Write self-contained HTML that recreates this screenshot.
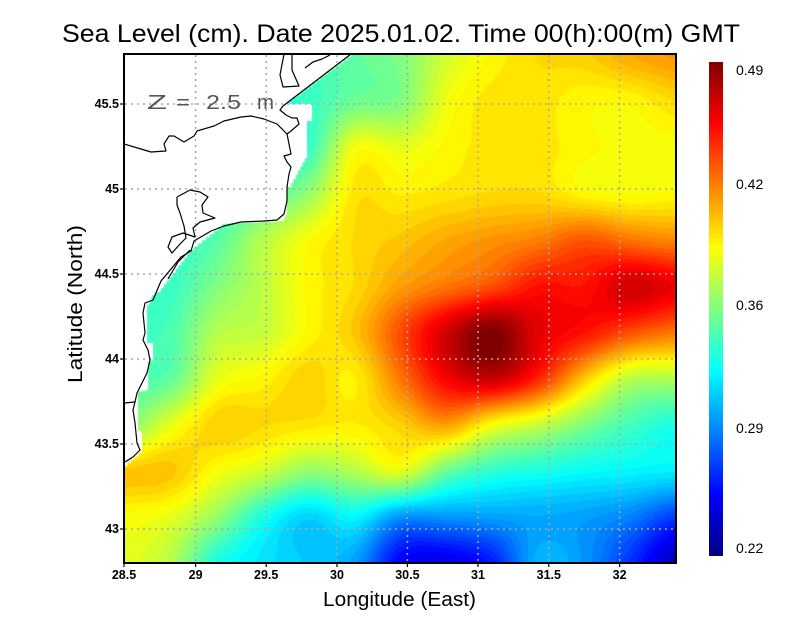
<!DOCTYPE html>
<html><head><meta charset="utf-8">
<style>
html,body{margin:0;padding:0;background:#fff;width:800px;height:618px;overflow:hidden}
#c{position:absolute;left:124px;top:54px}
svg{position:absolute;left:0;top:0}
text{font-family:"Liberation Sans",sans-serif}
</style></head>
<body>
<canvas id="c" width="552" height="509"></canvas>
<svg width="800" height="618" viewBox="0 0 800 618">
<defs>
<linearGradient id="jet" x1="0" y1="1" x2="0" y2="0">
<stop offset="0" stop-color="#000080"/>
<stop offset="0.125" stop-color="#0000ff"/>
<stop offset="0.375" stop-color="#00ffff"/>
<stop offset="0.625" stop-color="#ffff00"/>
<stop offset="0.875" stop-color="#ff0000"/>
<stop offset="1" stop-color="#800000"/>
</linearGradient>
</defs>
<!-- grid -->
<g stroke="#a8a8a8" stroke-width="1.5" stroke-dasharray="2,4" fill="none">
<line x1="195.6" y1="55" x2="195.6" y2="562"/>
<line x1="266.2" y1="55" x2="266.2" y2="562"/>
<line x1="337" y1="55" x2="337" y2="562"/>
<line x1="407.4" y1="55" x2="407.4" y2="562"/>
<line x1="478" y1="55" x2="478" y2="562"/>
<line x1="548.8" y1="55" x2="548.8" y2="562"/>
<line x1="619.6" y1="55" x2="619.6" y2="562"/>
<line x1="125" y1="104" x2="675" y2="104"/>
<line x1="125" y1="189" x2="675" y2="189"/>
<line x1="125" y1="274" x2="675" y2="274"/>
<line x1="125" y1="359" x2="675" y2="359"/>
<line x1="125" y1="444" x2="675" y2="444"/>
<line x1="125" y1="529" x2="675" y2="529"/>
</g>
<!-- coast -->
<g stroke="#000" stroke-width="1.2" fill="none" stroke-linejoin="round">
<polyline points="351,54 283,106 280,110 286,115 292,118 297,118 299,124 291,131 287,134"/>
<polyline points="124,144 141,149 151,152 166,151 164,144 169,136 174,136 184,142 194,136 197,131 214,126 224,121 241,117 251,116 264,119 277,124 287,134 291,154 284,156 287,162 291,167 289,174 287,187 287,201 284,214 277,220 264,221 241,222 224,226 211,231 194,241 191,251 181,257 161,281 153,300 145,303 143,313 145,333 143,340 148,350 150,360 147,373 142,383 137,393 135,402 133,410 135,423 137,443 140,450 133,457 125,462"/>
<polyline points="124,403 135,402"/>
<polyline points="284,54 280,75 283,87 299,86 292,70 292,54"/>
<polyline points="305,68 313,62 322,59 330,55"/>
<polyline points="177,197 190,190 200,192 208,197 202,205 203,213 215,218 200,222 193,228 195,237 183,233 172,237 168,247 172,253 180,244 186,238 184,226 180,213 177,205 177,197"/>
<polyline points="190,250 178,262 168,279"/>
</g>
<!-- frame -->
<rect x="124" y="54" width="552" height="509" fill="none" stroke="#000" stroke-width="2"/>
<!-- ticks -->
<g stroke="#000" stroke-width="1.2">
<line x1="124" y1="563" x2="124" y2="567"/><line x1="195.6" y1="563" x2="195.6" y2="567"/>
<line x1="266.2" y1="563" x2="266.2" y2="567"/><line x1="337" y1="563" x2="337" y2="567"/>
<line x1="407.4" y1="563" x2="407.4" y2="567"/><line x1="478" y1="563" x2="478" y2="567"/>
<line x1="548.8" y1="563" x2="548.8" y2="567"/><line x1="619.6" y1="563" x2="619.6" y2="567"/>
<line x1="120" y1="104" x2="124" y2="104"/><line x1="120" y1="189" x2="124" y2="189"/>
<line x1="120" y1="274" x2="124" y2="274"/><line x1="120" y1="359" x2="124" y2="359"/>
<line x1="120" y1="444" x2="124" y2="444"/><line x1="120" y1="529" x2="124" y2="529"/>
</g>
<!-- tick labels -->
<g font-size="12.5" font-weight="bold" fill="#000" text-anchor="middle">
<text x="124" y="579">28.5</text><text x="195.6" y="579">29</text>
<text x="266.2" y="579">29.5</text><text x="337" y="579">30</text>
<text x="407.4" y="579">30.5</text><text x="478" y="579">31</text>
<text x="548.8" y="579">31.5</text><text x="619.6" y="579">32</text>
</g>
<g font-size="12.5" font-weight="bold" fill="#000" text-anchor="end">
<text x="119" y="108">45.5</text><text x="119" y="193">45</text>
<text x="119" y="278">44.5</text><text x="119" y="363">44</text>
<text x="119" y="448">43.5</text><text x="119" y="533">43</text>
</g>
<!-- colorbar -->
<rect x="709" y="62" width="14" height="494" fill="url(#jet)"/>
<g font-size="14" fill="#000">
<text x="736" y="75">0.49</text>
<text x="736" y="189">0.42</text>
<text x="736" y="310">0.36</text>
<text x="736" y="433">0.29</text>
<text x="736" y="553">0.22</text>
</g>
<!-- titles -->
<text x="62" y="42" font-size="25" textLength="678" lengthAdjust="spacingAndGlyphs" fill="#000">Sea Level (cm). Date 2025.01.02. Time 00(h):00(m) GMT</text>
<text x="323" y="606" font-size="20" textLength="153" lengthAdjust="spacingAndGlyphs" fill="#000">Longitude (East)</text>
<text transform="translate(82,383) rotate(-90)" font-size="20" textLength="158" lengthAdjust="spacingAndGlyphs" fill="#000">Latitude (North)</text>
<g font-size="20" fill="#555">
<text x="147" y="109" textLength="20" lengthAdjust="spacingAndGlyphs">Z</text>
<text x="176" y="109" textLength="14" lengthAdjust="spacingAndGlyphs">=</text>
<text x="206" y="109" textLength="35" lengthAdjust="spacingAndGlyphs">2.5</text>
<text x="257" y="109" textLength="17" lengthAdjust="spacingAndGlyphs">m</text>
</g>
</svg>
<script>
(function(){
var G=[
[0.42,0.42,0.42,0.42,0.44,0.47,0.50,0.58,0.63,0.66,0.67,0.71,0.73],
[0.42,0.42,0.42,0.42,0.43,0.48,0.50,0.61,0.65,0.65,0.63,0.63,0.66],
[0.42,0.42,0.42,0.42,0.43,0.61,0.60,0.63,0.65,0.65,0.63,0.62,0.62],
[0.42,0.42,0.42,0.45,0.52,0.65,0.64,0.65,0.66,0.66,0.63,0.62,0.63],
[0.42,0.42,0.46,0.55,0.62,0.66,0.68,0.71,0.73,0.75,0.79,0.76,0.74],
[0.42,0.43,0.50,0.56,0.63,0.66,0.72,0.76,0.80,0.86,0.86,0.92,0.89],
[0.44,0.45,0.55,0.57,0.63,0.68,0.80,0.92,1.00,0.90,0.86,0.80,0.76],
[0.46,0.47,0.60,0.63,0.67,0.64,0.76,0.88,0.93,0.84,0.68,0.56,0.55],
[0.50,0.60,0.67,0.66,0.65,0.64,0.67,0.72,0.62,0.57,0.50,0.44,0.40],
[0.68,0.68,0.62,0.58,0.52,0.55,0.60,0.48,0.42,0.40,0.38,0.37,0.36],
[0.62,0.60,0.52,0.40,0.33,0.37,0.27,0.27,0.28,0.29,0.28,0.25,0.18],
[0.60,0.55,0.40,0.35,0.32,0.28,0.12,0.10,0.15,0.30,0.27,0.17,0.05]];
var NX=13,NY=12,DX=46,DY=509/11,W=552,H=509;
function cr(p0,p1,p2,p3,t){return 0.5*((2*p1)+(-p0+p2)*t+(2*p0-5*p1+4*p2-p3)*t*t+(-p0+3*p1-3*p2+p3)*t*t*t);}
function g(i,j){i=Math.max(0,Math.min(NX-1,i));j=Math.max(0,Math.min(NY-1,j));return G[j][i];}
function val(x,y){var fx=x/DX,fy=y/DY,i=Math.floor(fx),j=Math.floor(fy);if(i>NX-2)i=NX-2;if(j>NY-2)j=NY-2;var tx=fx-i,ty=fy-j,r=[];for(var k=-1;k<3;k++){r.push(cr(g(i-1,j+k),g(i,j+k),g(i+1,j+k),g(i+2,j+k),tx));}return cr(r[0],r[1],r[2],r[3],ty);}
function cl(v){return Math.round(255*Math.max(0,Math.min(1,v)));}
var c=document.getElementById('c'),ctx=c.getContext('2d');
var img=ctx.createImageData(W,H),d=img.data;
for(var y=0;y<H;y++){for(var x=0;x<W;x++){var t=val(x,y);t=Math.max(0,Math.min(1,t));t=Math.round(t*60)/60;var p=(y*W+x)*4;d[p]=cl(1.5-Math.abs(4*t-3));d[p+1]=cl(1.5-Math.abs(4*t-2));d[p+2]=cl(1.5-Math.abs(4*t-1));d[p+3]=255;}}
ctx.putImageData(img,0,0);
var P=[[124,54],[351,54]];
function st(x0,y0,x1,y1,s){var n=Math.max(1,Math.round(Math.max(Math.abs(x1-x0),Math.abs(y1-y0))/s));var px=x0;for(var k=1;k<=n;k++){var x=x0+(x1-x0)*k/n,y=y0+(y1-y0)*k/n;P.push([px,y]);P.push([x,y]);px=x;}}
function pu(a){for(var i=0;i<a.length;i++)P.push(a[i]);}
st(351,54,289,100,4);
pu([[289,104],[312,104],[312,121],[307,121],[307,154]]);
st(307,154,289,187,4);
pu([[287,187],[287,214],[283,221],[222,224]]);
st(222,224,190,250,4);
st(190,250,158,292,4);
pu([[152,296],[150,303],[147,306],[147,343],[153,343],[153,360],[148,362],[148,390],[138,392],[138,430],[142,432],[142,450]]);
st(142,450,124,466,4);
ctx.save();ctx.translate(-124,-54);ctx.fillStyle='#fff';ctx.beginPath();ctx.moveTo(P[0][0],P[0][1]);for(var i=1;i<P.length;i++)ctx.lineTo(P[i][0],P[i][1]);ctx.closePath();ctx.fill();ctx.restore();
})();
</script>
</body></html>
